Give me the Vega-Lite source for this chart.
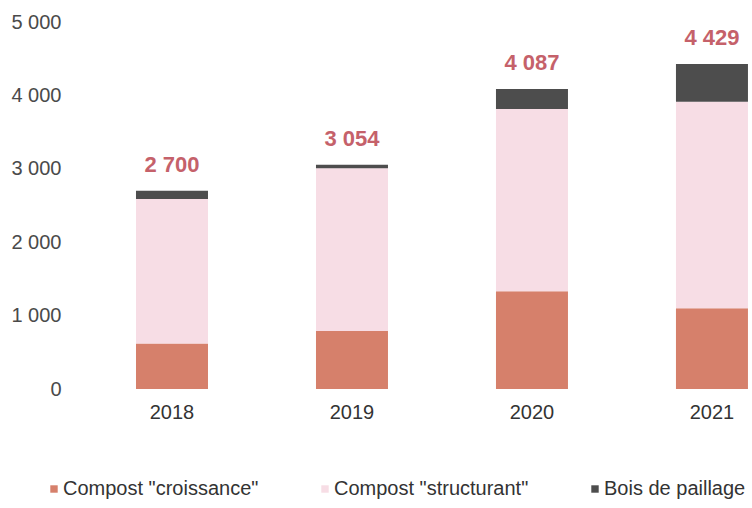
{
  "$schema": "https://vega.github.io/schema/vega-lite/v6.json",
  "autosize": "none",
  "width": 680,
  "height": 367,
  "padding": {"left": 70, "top": 22, "right": 2, "bottom": 119},
  "background": "white",
  "config": {
    "view": {"stroke": null},
    "font": "Liberation Sans"
  },
  "data": {
    "values": [
      {"year": "2018", "type": "Compost \"croissance\"", "k": 1, "value": 620},
      {"year": "2018", "type": "Compost \"structurant\"", "k": 2, "value": 1970},
      {"year": "2018", "type": "Bois de paillage", "k": 3, "value": 110},
      {"year": "2019", "type": "Compost \"croissance\"", "k": 1, "value": 790},
      {"year": "2019", "type": "Compost \"structurant\"", "k": 2, "value": 2219},
      {"year": "2019", "type": "Bois de paillage", "k": 3, "value": 45},
      {"year": "2020", "type": "Compost \"croissance\"", "k": 1, "value": 1331},
      {"year": "2020", "type": "Compost \"structurant\"", "k": 2, "value": 2484},
      {"year": "2020", "type": "Bois de paillage", "k": 3, "value": 272},
      {"year": "2021", "type": "Compost \"croissance\"", "k": 1, "value": 1100},
      {"year": "2021", "type": "Compost \"structurant\"", "k": 2, "value": 2813},
      {"year": "2021", "type": "Bois de paillage", "k": 3, "value": 516}
    ]
  },
  "encoding": {
    "x": {
      "field": "year", "type": "ordinal",
      "scale": {"paddingInner": 0.6, "paddingOuter": 0.189, "align": 0.97},
      "axis": {"title": null, "labelAngle": 0, "domain": false, "ticks": false, "labelPadding": 13, "labelFontSize": 20, "labelColor": "#333333"}
    }
  },
  "layer": [
    {
      "mark": {"type": "bar"},
      "encoding": {
        "y": {
          "field": "value", "type": "quantitative", "stack": "zero",
          "scale": {"domain": [0, 5000], "nice": false},
          "axis": {"title": null, "values": [0, 1000, 2000, 3000, 4000, 5000], "grid": false, "domain": false, "ticks": false, "labelPadding": 9, "labelFontSize": 20, "labelColor": "#4a4a4a", "labelExpr": "replace(format(datum.value, ',d'), ',', ' ')"}
        },
        "color": {
          "field": "type", "type": "nominal",
          "scale": {"domain": ["Compost \"croissance\"", "Compost \"structurant\"", "Bois de paillage"], "range": ["#d6806b", "#f7dde5", "#4d4d4d"]},
          "legend": {"title": null, "orient": "none", "direction": "horizontal", "legendX": -26, "legendY": 457, "symbolType": "square", "symbolSize": 55, "labelFontSize": 20, "labelLimit": 0, "labelColor": "#333333", "gridAlign": "none", "columnPadding": 56, "labelOffset": -1, "symbolStrokeWidth": 0}
        },
        "order": {"field": "k", "type": "quantitative"}
      }
    },
    {
      "transform": [
        {"aggregate": [{"op": "sum", "field": "value", "as": "total"}], "groupby": ["year"]},
        {"calculate": "replace(format(datum.total, ',d'), ',', ' ')", "as": "label"}
      ],
      "mark": {"type": "text", "baseline": "alphabetic", "dy": -19, "fontSize": 22, "fontWeight": "bold", "color": "#c5616a"},
      "encoding": {
        "y": {"field": "total", "type": "quantitative"},
        "text": {"field": "label", "type": "nominal"}
      }
    }
  ]
}
